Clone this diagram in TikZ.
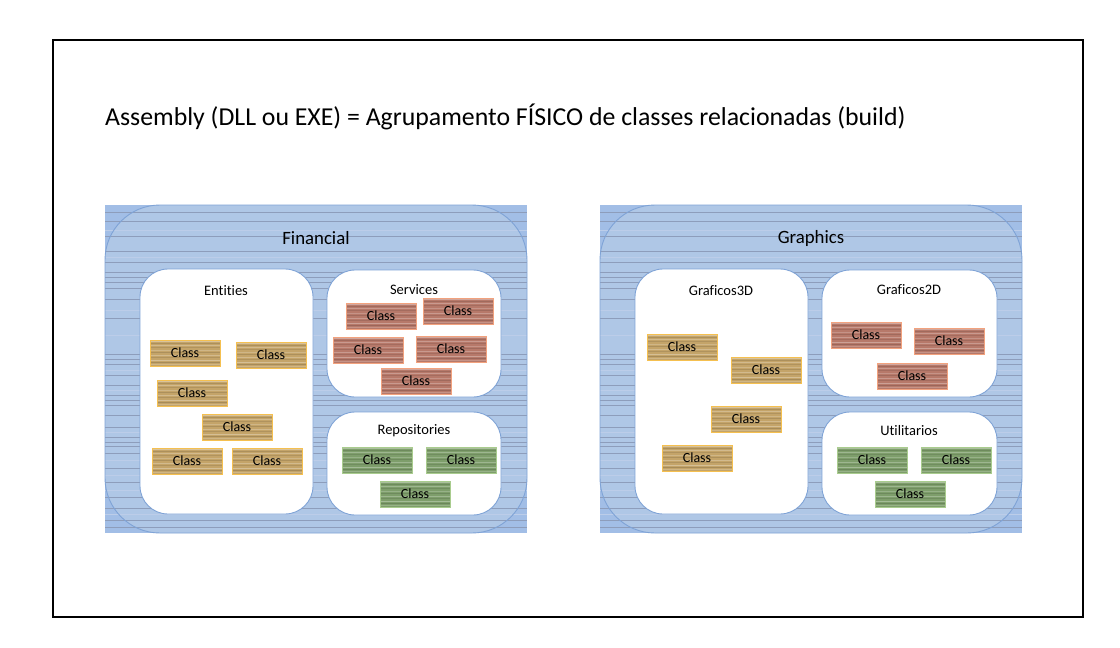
\documentclass[tikz,border=0pt]{standalone}
\usepackage{fontspec}
\setmainfont{Carlito}[Ligatures=CommonOff]
\usetikzlibrary{calc}
\definecolor{panelbg}{HTML}{A2BEE6}
\definecolor{panelin}{HTML}{AFC7E6}
\definecolor{panelline}{HTML}{7FA3D6}
\definecolor{stripe}{HTML}{8D9DBB}
\definecolor{stripel}{HTML}{BCCDE9}
\definecolor{goldf}{HTML}{C4A469}
\definecolor{goldd}{HTML}{F5C050}
\definecolor{brownf}{HTML}{B7796A}
\definecolor{brownd}{HTML}{F2A27E}
\definecolor{greenf}{HTML}{7E9E6B}
\definecolor{greend}{HTML}{A9CC8E}
\tikzset{
  classstripes/.style={path picture={
    \foreach \f/\c/\o in {0.05/white/0.35,0.13/black/0.12,0.21/white/0.25,0.3/black/0.1,0.39/white/0.2,0.49/black/0.12,0.58/white/0.25,0.67/black/0.1,0.77/white/0.3,0.87/black/0.15,0.95/white/0.2}{
      \draw[\c,opacity=\o,line width=1pt] ($(path picture bounding box.north west)!\f!(path picture bounding box.south west)$) -- ++(100,0);
    }}},
  classbox/.style={draw,line width=0.9pt,minimum width=70pt,minimum height=26pt,inner sep=0pt,font=\fontsize{14}{16}\selectfont,classstripes},
  cgold/.style={classbox,fill=goldf,draw=goldd},
  cbrown/.style={classbox,fill=brownf,draw=brownd},
  cgreen/.style={classbox,fill=greenf,draw=greend},
  subbox/.style={draw=panelline,line width=0.9pt,fill=white,rounded corners=28pt,inner sep=0pt},
  sublabel/.style={font=\fontsize{14.5}{17}\selectfont,inner sep=0pt},
  paneltitle/.style={font=\fontsize{18.8}{22}\selectfont,inner sep=0pt},
}
\begin{document}
\begin{tikzpicture}[x=1pt,y=-1pt]
\useasboundingbox (0,0) rectangle (1120,648);
\fill[white] (0,0) rectangle (1120,648);
\draw[line width=1.4pt] (53,40) rectangle (1083,617);
\node[anchor=west,inner sep=0pt,font=\fontsize{25.8}{30}\selectfont] (title) at (105,117) {Assembly (DLL ou EXE) = Agrupamento FÍSICO de classes relacionadas (build)};
% panels
\foreach \px in {105,600}{
  \fill[panelbg] (\px,205) rectangle ++(422,328);
  \fill[panelin,rounded corners=55pt] (\px,205) rectangle ++(422,328);
  \foreach \d in {7,16,31,46,57,67,72,77,83,94,113,149,154,159,170,180,190,195,200,210,222,232,237,241,248,263,277,292,303,315,322}{
    \draw[stripe,line width=0.6pt] (\px,{205+\d}) -- ++(422,0);
  }
  \foreach \d in {25,52,105,130,165,185,227,255,270,285,309}{
    \draw[stripel,line width=0.6pt] (\px,{205+\d}) -- ++(422,0);
  }
  \draw[panelline,line width=0.9pt,rounded corners=55pt] (\px,205) rectangle ++(422,328);
}
% Financial
\node[paneltitle] (financial) at (316,238) {Financial};
\node[subbox,minimum width=173pt,minimum height=245pt] (entities) at (226.5,391.5) {};
\node[subbox,minimum width=174pt,minimum height=127pt] (services) at (414,333.5) {};
\node[subbox,minimum width=174pt,minimum height=103pt] (repos) at (414,463.5) {};
\node[sublabel] (entitiesl) at (226,291) {Entities};
\node[sublabel] (servicesl) at (414,290) {Services};
\node[sublabel] (reposl) at (414,431) {Repositories};
\node[cgold] (e1) at (185,353) {Class};
\node[cgold] (e2) at (271,355) {Class};
\node[cgold] (e3) at (192,393) {Class};
\node[cgold] (e4) at (237,427) {Class};
\node[cgold] (e5) at (187,461) {Class};
\node[cgold] (e6) at (267,461) {Class};
\node[cbrown] (s1) at (381,316) {Class};
\node[cbrown] (s2) at (458,311) {Class};
\node[cbrown] (s3) at (368,350) {Class};
\node[cbrown] (s4) at (451,349) {Class};
\node[cbrown] (s5) at (416,381) {Class};
\node[cgreen] (r1) at (377,460) {Class};
\node[cgreen] (r2) at (461,460) {Class};
\node[cgreen] (r3) at (415,494) {Class};
% Graphics
\node[paneltitle] (graphics) at (811,238) {Graphics};
\node[subbox,minimum width=173pt,minimum height=245pt] (g3d) at (721.5,391.5) {};
\node[subbox,minimum width=175pt,minimum height=127pt] (g2d) at (909.5,333.5) {};
\node[subbox,minimum width=175pt,minimum height=103pt] (util) at (909.5,463.5) {};
\node[sublabel] (g3dl) at (721,291) {Graficos3D};
\node[sublabel] (g2dl) at (909,290) {Graficos2D};
\node[sublabel] (utill) at (909,431) {Utilitarios};
\node[cgold] (a1) at (682,347) {Class};
\node[cgold] (a2) at (766,370) {Class};
\node[cgold] (a3) at (746,419) {Class};
\node[cgold] (a4) at (697,458) {Class};
\node[cbrown] (b1) at (866,335) {Class};
\node[cbrown] (b2) at (949,341) {Class};
\node[cbrown] (b3) at (912,376) {Class};
\node[cgreen] (u1) at (872,460) {Class};
\node[cgreen] (u2) at (956,460) {Class};
\node[cgreen] (u3) at (910,494) {Class};
\end{tikzpicture}
\end{document}
